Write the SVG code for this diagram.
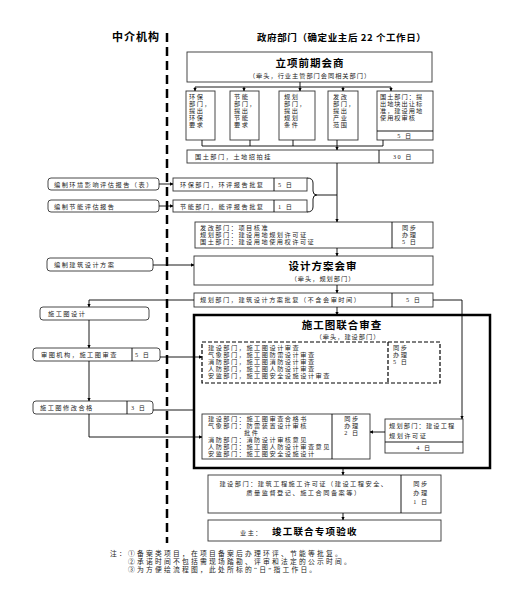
<svg xmlns="http://www.w3.org/2000/svg" width="527" height="594" viewBox="0 0 527 594">
<defs>
<marker id="ah" viewBox="0 0 6 6" refX="5.5" refY="3" markerWidth="4" markerHeight="4" orient="auto">
<path d="M0,0 L6,3 L0,6 z" fill="#000"/>
</marker>
<style>
text{font-family:"Liberation Serif","Noto Sans CJK SC",serif;fill:#222}
.b{fill:#fff;stroke:#333;stroke-width:0.9}
.r{fill:#fff;stroke:#333;stroke-width:0.9}
.t{font-size:6.2px;letter-spacing:1.5px}
.s{font-size:6.2px;letter-spacing:1px}
.n{font-size:6.8px;letter-spacing:2.2px}
.h{font-family:"Noto Sans CJK SC","Liberation Sans",sans-serif;font-size:10.5px;font-weight:bold;fill:#000;letter-spacing:1px}
.c{stroke:#000;stroke-width:0.9;fill:none}
.ca{stroke:#000;stroke-width:0.9;fill:none;marker-end:url(#ah)}
.mid{text-anchor:middle}
</style>
</defs>
<rect width="527" height="594" fill="#fff"/>

<g id="header">
<text x="112" y="41" class="h" style="font-size:11px">中介机构</text>
<text x="257" y="41" style="font-family:'Noto Sans CJK SC','Liberation Sans',sans-serif;font-size:9.5px;font-weight:bold;fill:#000;letter-spacing:0.6px">政府部门（确定业主后 22 个工作日）</text>
<line x1="167" y1="33" x2="167" y2="543" stroke="#000" stroke-width="2.5" stroke-dasharray="9,5"/>
</g>

<g id="n-lixiang">
<rect x="187" y="52" width="245" height="30" class="b"/>
<text x="310" y="67" class="h mid">立项前期会商</text>
<text x="310" y="78" class="s mid">（牵头，行业主管部门会同相关部门）</text>
</g>

<g id="n-huanbao">
<rect x="186" y="91" width="29" height="49" class="b"/>
<text class="t" y="99"><tspan x="189">环保</tspan><tspan x="189" dy="7">部门，</tspan><tspan x="189" dy="7">提出</tspan><tspan x="189" dy="7">环保</tspan><tspan x="189" dy="7">要求</tspan></text>
</g>
<g id="n-jieneng">
<rect x="230" y="91" width="29" height="49" class="b"/>
<text class="t" y="99"><tspan x="234">节能</tspan><tspan x="234" dy="7">部门，</tspan><tspan x="234" dy="7">提出</tspan><tspan x="234" dy="7">节能</tspan><tspan x="234" dy="7">要求</tspan></text>
</g>
<g id="n-guihua">
<rect x="279" y="91" width="36" height="49" class="b"/>
<text class="t" y="99"><tspan x="284">规划</tspan><tspan x="284" dy="7">部门，</tspan><tspan x="284" dy="7">提出</tspan><tspan x="284" dy="7">规划</tspan><tspan x="284" dy="7">条件</tspan></text>
</g>
<g id="n-fagai">
<rect x="328" y="91" width="30" height="49" class="b"/>
<text class="t" y="99"><tspan x="333">发改</tspan><tspan x="333" dy="7">部门，</tspan><tspan x="333" dy="7">提出</tspan><tspan x="333" dy="7">产业</tspan><tspan x="333" dy="7">范围</tspan></text>
</g>
<g id="n-guotu1">
<rect x="377" y="91" width="56" height="49" class="b"/>
<line x1="377" y1="131" x2="433" y2="131" class="c"/>
<text class="t" y="99" style="letter-spacing:1px"><tspan x="380">国土部门：提</tspan><tspan x="380" dy="7">出地块出让标</tspan><tspan x="380" dy="7">准，建设用地</tspan><tspan x="380" dy="7">使用权审核</tspan></text>
<text x="405" y="138" class="t mid">5 日</text>
</g>

<g id="n-zhaopai">
<rect x="187" y="150" width="246" height="13" class="b"/>
<line x1="379" y1="150" x2="379" y2="163" class="c"/>
<text x="195" y="159" class="t">国土部门，土地招拍挂</text>
<text x="393" y="159" class="t">30 日</text>
</g>

<g id="n-huanping-zj">
<rect x="48" y="178" width="111" height="12" rx="3" class="r"/>
<text x="54" y="187" class="t">编制环境影响评估报告（表）</text>
</g>
<g id="n-nengping-zj">
<rect x="48" y="200" width="111" height="12" rx="3" class="r"/>
<text x="54" y="209" class="t">编制节能评估报告</text>
</g>
<g id="n-huanping">
<rect x="173" y="178" width="134" height="13" class="b"/>
<line x1="274" y1="178" x2="274" y2="191" class="c"/>
<text x="180" y="187" class="t">环保部门，环评报告批复</text>
<text x="278" y="187" class="t">5 日</text>
</g>
<g id="n-nengping">
<rect x="173" y="200" width="134" height="12" class="b"/>
<line x1="274" y1="200" x2="274" y2="212" class="c"/>
<text x="180" y="209" class="t">节能部门，能评报告批复</text>
<text x="278" y="209" class="t">1 日</text>
</g>

<g id="n-hezhun">
<rect x="195" y="222" width="238" height="26" class="b"/>
<line x1="392" y1="222" x2="392" y2="248" class="c"/>
<text class="t" y="230"><tspan x="200">发改部门：项目核准</tspan><tspan x="200" dy="7">规划部门：建设用地规划许可证</tspan><tspan x="200" dy="7">国土部门：建设用地使用权许可证</tspan></text>
<text class="t" y="230"><tspan x="402">同步</tspan><tspan x="402" dy="7">办理</tspan><tspan x="402" dy="7">5 日</tspan></text>
</g>

<g id="n-fangan-zj">
<rect x="47" y="258" width="106" height="13" rx="3" class="r"/>
<text x="54" y="267" class="t">编制建筑设计方案</text>
</g>
<g id="n-fangan">
<rect x="194" y="256" width="239" height="29" class="b"/>
<text x="323" y="270" class="h mid">设计方案会审</text>
<text x="323" y="281" class="s mid">（牵头，规划部门）</text>
</g>
<g id="n-fangan-pf">
<rect x="194" y="293" width="239" height="14" class="b"/>
<line x1="392" y1="293" x2="392" y2="307" class="c"/>
<text x="200" y="302" class="t">规划部门，建筑设计方案批复（不含会审时间）</text>
<text x="406" y="302" class="t">5 日</text>
</g>

<g id="n-sgt-sheji">
<rect x="40" y="307" width="109" height="13" rx="3" class="r"/>
<text x="48" y="316" class="t">施工图设计</text>
</g>
<g id="n-sgt-shencha">
<rect x="33" y="348" width="127" height="13" rx="3" class="r"/>
<line x1="132" y1="348" x2="132" y2="361" class="c"/>
<text x="41" y="357" class="t">审图机构，施工图审查</text>
<text x="135" y="357" class="t">5 日</text>
</g>
<g id="n-sgt-xiugai">
<rect x="33" y="401" width="120" height="13" rx="3" class="r"/>
<line x1="127" y1="401" x2="127" y2="414" class="c"/>
<text x="40" y="410" class="t">施工图修改合格</text>
<text x="131" y="410" class="t">3 日</text>
</g>

<g id="n-lianhe">
<rect x="194" y="315" width="296" height="153" fill="none" stroke="#000" stroke-width="2.5"/>
<text x="342" y="329" class="h mid">施工图联合审查</text>
<text x="348" y="339" class="s mid">（牵头，建设部门）</text>
</g>
<g id="n-lianhe-a">
<rect x="202" y="342" width="238" height="41" fill="#fff" stroke="#000" stroke-width="1.2" stroke-dasharray="4,2"/>
<line x1="388" y1="342" x2="388" y2="383" stroke="#000" stroke-width="1.2" stroke-dasharray="4,2"/>
<text class="t" y="350"><tspan x="208">建设部门，施工图设计审查</tspan><tspan x="208" dy="7">气象部门，施工图防雷设计审查</tspan><tspan x="208" dy="7">消防部门，施工图消防设计审查</tspan><tspan x="208" dy="7">人防部门，施工图人防设计审查</tspan><tspan x="208" dy="7">安监部门，施工图安全设施设计审查</tspan></text>
<text class="t" y="350"><tspan x="393">同步</tspan><tspan x="393" dy="7">办理</tspan><tspan x="393" dy="7">5 日</tspan></text>
</g>
<g id="n-lianhe-b">
<rect x="202" y="414" width="168" height="45" class="b"/>
<line x1="332" y1="414" x2="332" y2="459" class="c"/>
<text class="t" y="421"><tspan x="208">建设部门：施工图审查合格书</tspan><tspan x="208" dy="7">气象部门：防雷装置设计审核</tspan><tspan x="244" dy="7">批件</tspan><tspan x="208" dy="7">消防部门：消防设计审核意见</tspan><tspan x="208" dy="7">人防部门：施工图人防设计审查意见</tspan><tspan x="208" dy="7">安监部门：施工图安全设施设计</tspan></text>
<text class="t mid" y="421"><tspan x="352">同步</tspan><tspan x="352" dy="7">办理</tspan><tspan x="352" dy="7">2 日</tspan></text>
</g>
<g id="n-gcxk">
<rect x="385" y="419" width="78" height="34" class="b"/>
<line x1="385" y1="442" x2="463" y2="442" class="c"/>
<text class="t" y="428"><tspan x="389" style="letter-spacing:1.2px">规划部门：建设工程</tspan><tspan x="389" dy="10">规划许可证</tspan></text>
<text x="424" y="450" class="t mid">4 日</text>
</g>

<g id="n-shigong">
<rect x="208" y="475" width="233" height="38" class="b"/>
<line x1="401" y1="475" x2="401" y2="513" class="c"/>
<text class="t mid" y="486"><tspan x="304">建设部门：建筑工程施工许可证（建设工程安全、</tspan><tspan x="304" dy="9">质量监督登记、施工合同备案等）</tspan></text>
<text class="t mid" y="486"><tspan x="421">同步</tspan><tspan x="421" dy="9">办理</tspan><tspan x="421" dy="9">1 日</tspan></text>
</g>
<g id="n-yanshou">
<rect x="208" y="520" width="233" height="21" class="b"/>
<text x="240" y="535" class="t">业主：</text>
<text x="272" y="535" style="font-family:'Noto Sans CJK SC','Liberation Sans',sans-serif;font-size:9.5px;font-weight:bold;fill:#000;letter-spacing:1.2px">竣工联合专项验收</text>
</g>

<g id="notes">
<text class="n" y="556"><tspan x="110">注：①备案类项目，在项目备案后办理环评、节能等批复。</tspan><tspan x="128" dy="8">②承诺时间不包括需现场踏勘、评审和法定的公示时间。</tspan><tspan x="128" dy="8">③为方便绘流程图，此处所标的“日”指工作日。</tspan></text>
</g>

<g id="connectors">
<line x1="300" y1="82" x2="300" y2="87" class="c"/>
<line x1="195" y1="87" x2="391" y2="87" class="c"/>
<line x1="195" y1="87" x2="195" y2="91" class="ca"/>
<line x1="244" y1="87" x2="244" y2="91" class="ca"/>
<line x1="300" y1="87" x2="300" y2="91" class="ca"/>
<line x1="343" y1="87" x2="343" y2="91" class="ca"/>
<line x1="391" y1="87" x2="391" y2="91" class="ca"/>
<path d="M202,140 V146 M250,140 V146 M293,140 V146 M383,140 V146 M202,146 H383" class="c"/>
<line x1="337" y1="140" x2="337" y2="150" class="ca"/>
<line x1="337" y1="163" x2="337" y2="222" class="ca"/>
<line x1="159" y1="184" x2="173" y2="184" class="ca"/>
<line x1="159" y1="206" x2="173" y2="206" class="ca"/>
<path d="M307,178 Q313,178 313,183 V191 Q313,195 317,195 Q313,195 313,199 V207 Q313,212 307,212" class="c"/>
<line x1="317" y1="195" x2="337" y2="195" class="c"/>
<line x1="337" y1="248" x2="337" y2="256" class="ca"/>
<line x1="153" y1="265" x2="194" y2="265" class="ca"/>
<line x1="337" y1="285" x2="337" y2="293" class="ca"/>
<path d="M194,300 H89 V307" class="ca"/>
<line x1="89" y1="320" x2="89" y2="348" class="ca"/>
<line x1="160" y1="357" x2="202" y2="357" class="ca"/>
<line x1="89" y1="361" x2="89" y2="401" class="ca"/>
<line x1="153" y1="410" x2="194" y2="410" class="c"/>
<path d="M89,414 V437 H202" class="ca"/>
<line x1="337" y1="307" x2="337" y2="315" class="ca"/>
<path d="M433,300 H462 V419" class="ca"/>
<line x1="385" y1="432" x2="370" y2="432" class="ca"/>
<line x1="343" y1="468" x2="343" y2="475" class="ca"/>
<line x1="343" y1="513" x2="343" y2="520" class="ca"/>
</g>
</svg>
